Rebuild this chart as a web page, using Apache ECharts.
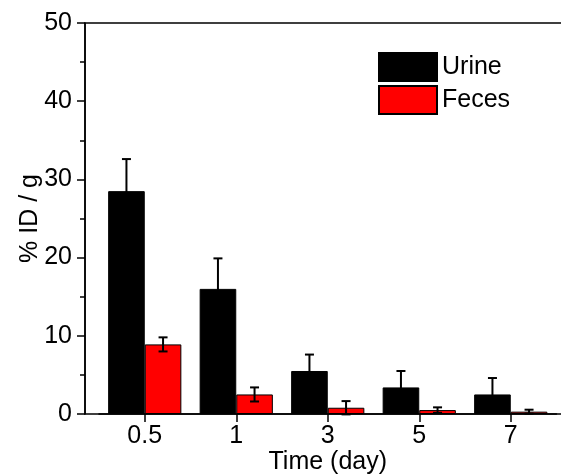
<!DOCTYPE html>
<html>
<head>
<meta charset="utf-8">
<script src="https://cdn.jsdelivr.net/npm/echarts@6/dist/echarts.min.js"></script>
<style>html,body{margin:0;padding:0;background:#fff;}#c{width:561px;height:476px;}</style>
</head>
<body>
<div id="c"></div>
<script>
const categories = ['0.5', '1', '3', '5', '7'];
const urine = [28.5, 16.0, 5.5, 3.4, 2.5];
const urineErr = [4.1, 3.9, 2.1, 2.1, 2.1];
const feces = [8.9, 2.5, 0.8, 0.5, 0.3];
const fecesErr = [0.9, 0.9, 0.85, 0.35, 0.25];
const yTicks = { min: 0, max: 50, interval: 10 };

const FONT = 'Liberation Sans, Arial, sans-serif';

function errData(vals, errs) {
  return vals.map((v, i) => [i, v, errs[i]]);
}
function errRender(shift) {
  return function (params, api) {
    const i = api.value(0), v = api.value(1), e = api.value(2);
    const band = api.size([1, 0])[0];
    const top = api.coord([i, v + e]);
    const bot = api.coord([i, v - e]);
    const x = top[0] + shift * band;
    const cap = 4.5;
    const st = { stroke: '#000', lineWidth: 2 };
    return {
      type: 'group',
      children: [
        { type: 'line', shape: { x1: x, y1: top[1], x2: x, y2: bot[1] }, style: st },
        { type: 'line', shape: { x1: x - cap, y1: top[1], x2: x + cap, y2: top[1] }, style: st },
        { type: 'line', shape: { x1: x - cap, y1: bot[1], x2: x + cap, y2: bot[1] }, style: st }
      ]
    };
  };
}

const chart = echarts.init(document.getElementById('c'), null, { renderer: 'canvas' });
chart.setOption({
  animation: false,
  backgroundColor: '#fff',
  textStyle: { fontFamily: FONT },
  grid: [
    { left: 99, right: 4.5, top: 23, bottom: 62, outerBoundsMode: 'none', containLabel: false },
    { left: 85, right: -20, top: 23, bottom: 62, outerBoundsMode: 'none', containLabel: false, show: true, borderColor: '#000', borderWidth: 1.5, backgroundColor: 'transparent' }
  ],
  legend: {
    orient: 'vertical', left: 378, top: 52, padding: 0,
    itemWidth: 58, itemHeight: 28, itemGap: 3,
    icon: 'rect',
    textStyle: { fontFamily: FONT, fontSize: 25, color: '#000' },
    data: ['Urine', 'Feces']
  },
  xAxis: [
    {
      type: 'category', gridIndex: 0, data: categories,
      axisLine: { show: true, lineStyle: { color: '#000', width: 1.5 } },
      axisTick: { show: true, alignWithLabel: true, length: 8, inside: false, lineStyle: { color: '#000', width: 1.5 } },
      axisLabel: { color: '#000', fontSize: 25, fontFamily: FONT, margin: 10 },
      name: 'Time (day)', nameLocation: 'middle', nameGap: 36, nameMoveOverlap: false,
      nameTextStyle: { color: '#000', fontSize: 25, fontFamily: FONT }
    },
    { type: 'value', gridIndex: 1, show: false }
  ],
  yAxis: [
    {
      type: 'value', gridIndex: 0, min: yTicks.min, max: yTicks.max, interval: yTicks.interval,
      offset: 14,
      axisLine: { show: true, lineStyle: { color: '#000', width: 1.5 } },
      axisTick: { show: true, length: 8, lineStyle: { color: '#000', width: 1.5 } },
      minorTick: { show: true, splitNumber: 2, length: 5, lineStyle: { color: '#000', width: 1.5 } },
      splitLine: { show: false },
      axisLabel: { color: '#000', fontSize: 25, fontFamily: FONT, margin: 13 },
      name: '% ID / g', nameLocation: 'middle', nameGap: 42, nameRotate: 90, nameMoveOverlap: false,
      nameTextStyle: { color: '#000', fontSize: 25, fontFamily: FONT }
    },
    { type: 'value', gridIndex: 1, show: false }
  ],
  series: [
    {
      name: 'Urine', type: 'bar', xAxisIndex: 0, yAxisIndex: 0, data: urine,
      barGap: '0%', barCategoryGap: '20%',
      itemStyle: { color: '#000', borderColor: '#000', borderWidth: 1 }
    },
    {
      name: 'Feces', type: 'bar', xAxisIndex: 0, yAxisIndex: 0, data: feces,
      barGap: '0%', barCategoryGap: '20%',
      itemStyle: { color: '#ff0000', borderColor: '#000', borderWidth: 1 }
    },
    {
      type: 'custom', xAxisIndex: 0, yAxisIndex: 0, z: 5,
      data: errData(urine, urineErr), renderItem: errRender(-0.2), silent: true
    },
    {
      type: 'custom', xAxisIndex: 0, yAxisIndex: 0, z: 5,
      data: errData(feces, fecesErr), renderItem: errRender(0.2), silent: true
    }
  ]
});
</script>
</body>
</html>
